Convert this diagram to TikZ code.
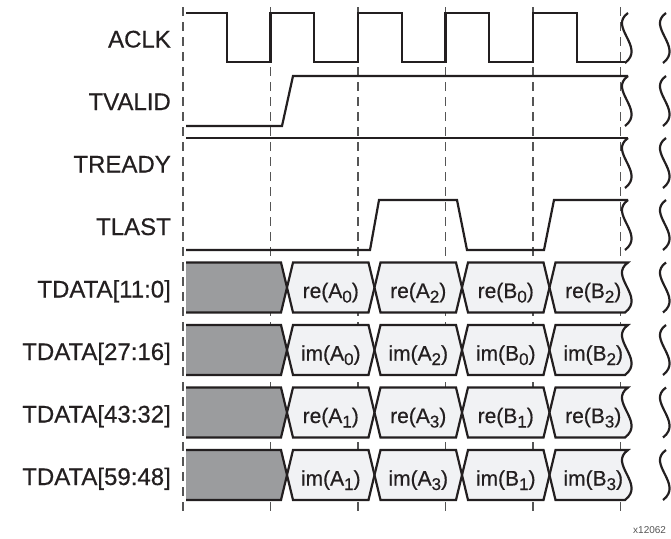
\documentclass[tikz,border=0pt]{standalone}
\usepackage{fontspec}
\setmainfont{Liberation Sans}[BoldFont=Liberation Sans, BoldFeatures={FakeBold=0.5}]
\usetikzlibrary{positioning}

\definecolor{gridgray}{RGB}{85,85,85}
\definecolor{wordfill}{RGB}{241,242,244}
\definecolor{idlegray}{RGB}{155,156,158}
\definecolor{inkblack}{RGB}{35,31,32}

\newcommand{\idx}[1]{\raisebox{-4.5pt}{\fontsize{17}{17}\selectfont #1}}

\tikzset{
  sig/.style={inkblack, line width=2.2pt, line join=miter},
  grid/.style={gridgray, line width=1.1pt, dash pattern=on 9pt off 6pt},
  lbl/.style={anchor=base east, inner sep=0pt, text=inkblack, font=\fontsize{24}{24}\selectfont\bfseries},
  val/.style={anchor=base, inner sep=0pt, text=inkblack, font=\fontsize{21}{21}\selectfont\bfseries},
  word/.style={sig, fill=wordfill},
  brk/.pic={\draw[sig] (3,0) .. controls (-17,14) and (21,34) .. (0,50);}
}

\begin{document}
\begin{tikzpicture}[x=1pt, y=-1pt]
\useasboundingbox (0,0) rectangle (671,538);

\foreach \k in {0,...,5}
  \draw[grid] ({183+87.5*\k},7) -- ({183+87.5*\k},514);

\node[lbl] (aclk) at (171,47.5) {ACLK};
\node[lbl] (tvalid) at (171,110) {TVALID};
\node[lbl] (tready) at (171,172.5) {TREADY};
\node[lbl] (tlast) at (171,235) {TLAST};
\node[lbl] (tdata0) at (171,297.5) {TDATA[11:0]};
\node[lbl] (tdata1) at (171,360) {TDATA[27:16]};
\node[lbl] (tdata2) at (171,422.5) {TDATA[43:32]};
\node[lbl] (tdata3) at (171,485) {TDATA[59:48]};

% control signals
\draw[sig] (186,13) -| (226.75,62) -| (270.5,13) -| (314.25,62) -| (358,13)
  -| (401.75,62) -| (445.5,13) -| (489.25,62) -| (533,13) -| (576.75,62) -- (625,62);
\draw[sig] (186,126) -- (282,126) -- (293,76) -- (628,76);
\draw[sig] (186,138) -- (628,138);
\draw[sig] (186,250) -- (370,250) -- (379,200) -- (457,200) -- (467,250)
  -- (544,250) -- (554,200) -- (628,200);

% data words
\foreach \r/\t/\f/\a/\b in {0/262.5/re/0/2, 1/325/im/0/2, 2/387.5/re/1/3, 3/450/im/1/3} {
  \fill[idlegray] (186,\t) -- (281,\t) -- (287,\t+25) -- (281,\t+50) -- (186,\t+50) -- cycle;
  \draw[sig] (186,\t) -- (281,\t) -- (287,\t+25) -- (281,\t+50) -- (186,\t+50);
  \foreach \k in {0,1,2}
    \draw[word] ({287+87.5*\k},\t+25) -- ++(6,-25) -- ({368.5+87.5*\k},\t)
      -- ++(6,25) -- ++(-6,25) -- ({293+87.5*\k},\t+50) -- cycle;
  \draw[word] (549.5,\t+25) -- (555.5,\t) -- (628,\t)
    .. controls (608,\t+14) and (646,\t+34) .. (625,\t+50) -- (555.5,\t+50) -- cycle;
  \node[val] (w\r-0) at (330.75,\t+35.5) {\f(A\idx{\a})};
  \node[val] (w\r-1) at (418.25,\t+35.5) {\f(A\idx{\b})};
  \node[val] (w\r-2) at (505.75,\t+35.5) {\f(B\idx{\a})};
  \node[val] (w\r-3) at (593.25,\t+35.5) {\f(B\idx{\b})};
}

% breaks
\foreach \t in {13,76,138,200} \pic at (625,\t) {brk};
\foreach \t in {13,76,138,200,262.5,325,387.5,450} \pic at (663,\t) {brk};

\node[anchor=base west, inner sep=0pt, text=gridgray, font=\fontsize{10}{10}\selectfont] (fig) at (633,533) {x12062};

\end{tikzpicture}
\end{document}
